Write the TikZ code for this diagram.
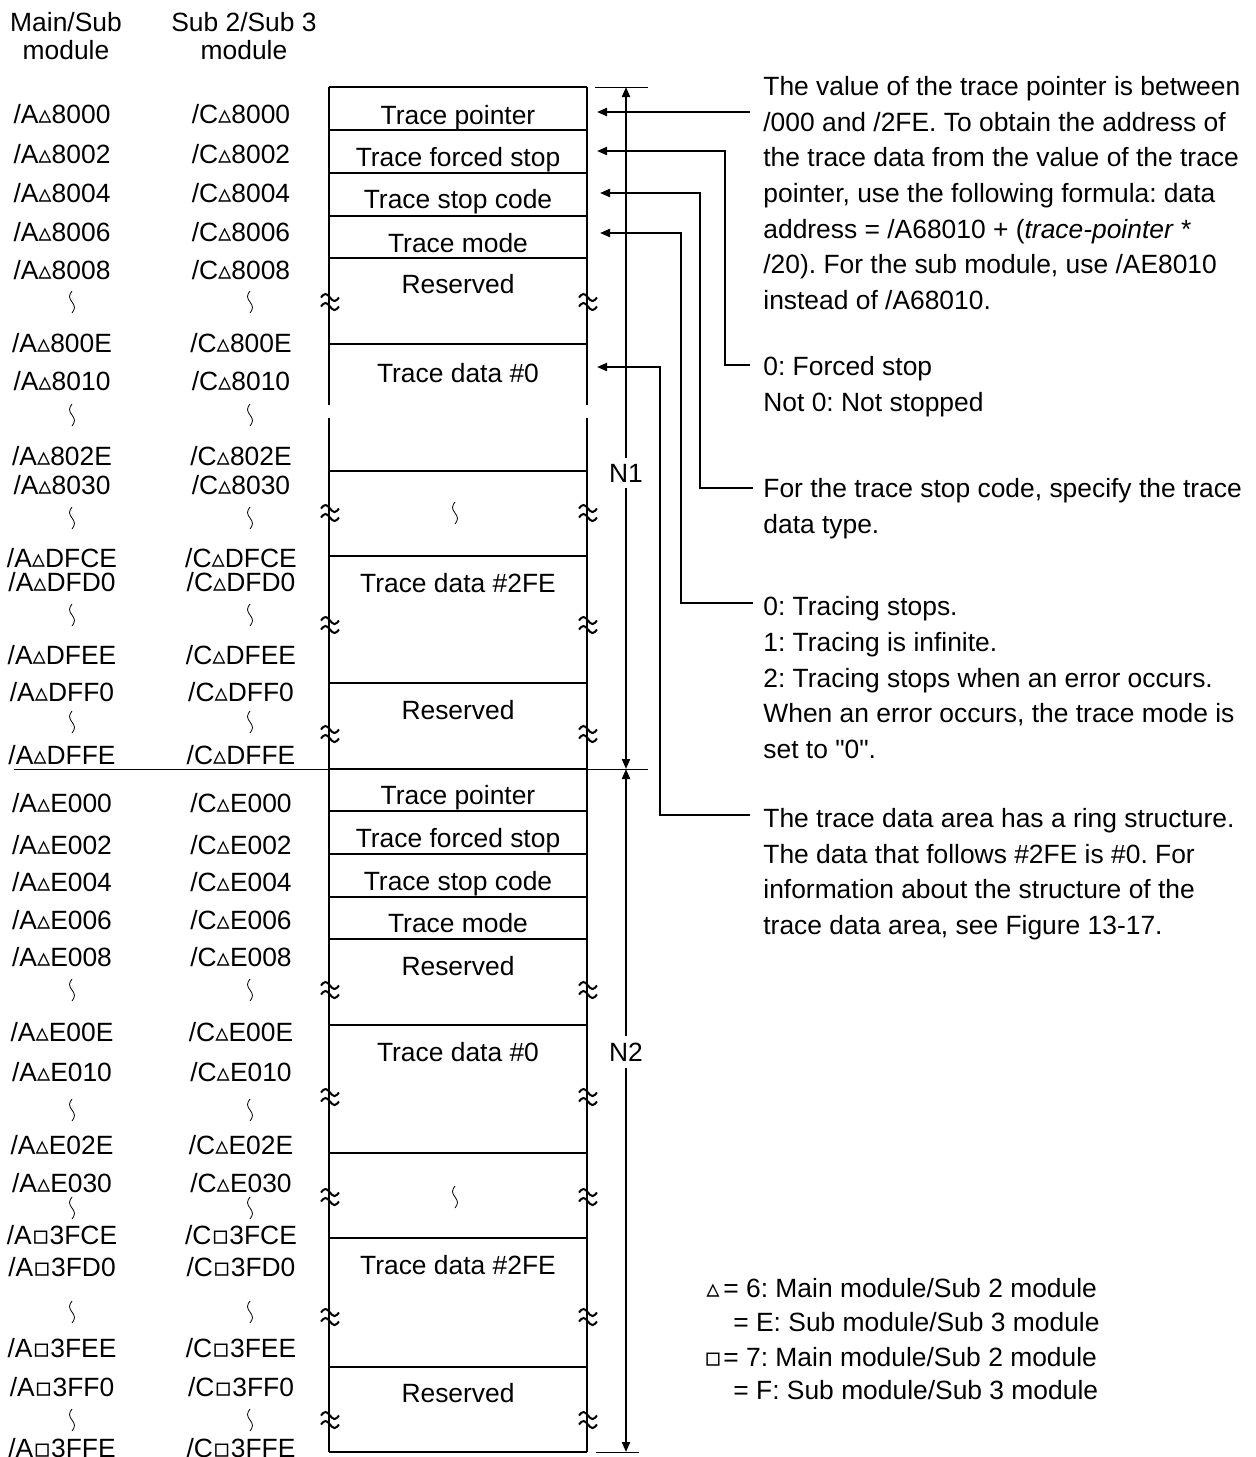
\documentclass[tikz,border=0pt]{standalone}
\usepackage{fontspec}
\setmainfont{Liberation Sans}
\newfontfamily\symfont{DejaVu Sans}
\usepackage{tikz}
\usetikzlibrary{arrows.meta}
\newcommand\txtsize{\fontsize{13.2pt}{17.8pt}\selectfont\frenchspacing}
\newcommand\tri{{\symfont\char"25B5}}
\newcommand\sqbox{{\symfont\char"25AB}}

\begin{document}
\begin{tikzpicture}[x=0.5pt, y=-0.5pt,
          every node/.style={font=\txtsize, inner sep=0pt},
          txt/.style={anchor=base, yshift=-4.6pt},
          note/.style={anchor=base west, align=left, yshift=-4.6pt},
          hdr/.style={anchor=base, yshift=-4.6pt, align=center,
                      font=\fontsize{13.2pt}{14pt}\selectfont},
          box/.style={line width=1pt},
          thinln/.style={line width=0.5pt},
          arr/.style={-{Triangle[length=5pt, width=4pt]}, line width=1pt},
          dim/.style={-{Triangle[length=5pt, width=4pt]}, line width=1pt},
          dimlbl/.style={inner sep=3pt},
          apx/.pic={\foreach \d in {-4.5,4.5}
                      \draw[line width=1pt] (-9,\d) sin (-4.5,\d-3.5) cos (0,\d)
                            sin (4.5,\d+3.5) cos (9,\d);},
          wig/.pic={\draw[line width=0.4pt, rotate=90] (-11,0) sin (-5.5,2.5) cos (0,0)
                            sin (5.5,-2.5) cos (11,0);}
        ]
        \useasboundingbox (0,0) rectangle (1255,1457);

        % Column headers
        \node[hdr] (hdmain) at (66,50) {Main/Sub\\module};
        \node[hdr] (hdsub) at (244,50) {Sub 2/Sub 3\\module};

        % Addresses
        \foreach \y/\s in {114/\tri{}8000, 154/\tri{}8002, 193/\tri{}8004,
                           232/\tri{}8006, 270/\tri{}8008, 343/\tri{}800E,
                           381/\tri{}8010, 456/\tri{}802E, 485/\tri{}8030,
                           558/\tri{}DFCE, 582/\tri{}DFD0, 655/\tri{}DFEE,
                           692/\tri{}DFF0, 755/\tri{}DFFE,
                           803/\tri{}E000, 845/\tri{}E002, 882/\tri{}E004,
                           920/\tri{}E006, 957/\tri{}E008, 1032/\tri{}E00E,
                           1072/\tri{}E010, 1145/\tri{}E02E, 1183/\tri{}E030,
                           1235/\sqbox{}3FCE, 1267/\sqbox{}3FD0, 1348/\sqbox{}3FEE,
                           1387/\sqbox{}3FF0, 1448/\sqbox{}3FFE} {
          \node[txt] (ma\y) at (62,\y) {/A\s};
          \node[txt] (sb\y) at (241,\y) {/C\s};
        }
        \foreach \y in {302,415,518,615,722,990,1110,1208,1312,1420} {
          \pic at (72,\y) {wig};
          \pic at (250,\y) {wig};
        }

        % Memory map
        \foreach \y in {87,130,173,216,258,344,471,556,683,769,
                        811,854,897,939,1025,1153,1238,1367,1452}
          \draw[box] (329,\y) -- (587,\y);
        \draw[box] (329,87) -- (329,405) (329,418) -- (329,1452)
                   (587,87) -- (587,405) (587,418) -- (587,1452);
        \foreach \y in {302,513,625,734,990,1097,1197,1317,1420} {
          \pic at (330,\y) {apx};
          \pic at (588,\y) {apx};
        }
        \pic at (455,513) {wig};
        \pic at (455,1197) {wig};

        \node[txt] (ptrA) at (458,115) {Trace pointer};
        \node[txt] (fstA) at (458,157) {Trace forced stop};
        \node[txt] (scA)  at (458,199) {Trace stop code};
        \node[txt] (mdA)  at (458,243) {Trace mode};
        \node[txt] (rsA)  at (458,284) {Reserved};
        \node[txt] (tdA)  at (458,373) {Trace data \#0};
        \node[txt] (teA)  at (458,583) {Trace data \#2FE};
        \node[txt] (rtA)  at (458,710) {Reserved};
        \node[txt] (ptrB) at (458,795) {Trace pointer};
        \node[txt] (fstB) at (458,838) {Trace forced stop};
        \node[txt] (scB)  at (458,881) {Trace stop code};
        \node[txt] (mdB)  at (458,923) {Trace mode};
        \node[txt] (rsB)  at (458,966) {Reserved};
        \node[txt] (tdB)  at (458,1052) {Trace data \#0};
        \node[txt] (teB)  at (458,1265) {Trace data \#2FE};
        \node[txt] (rtB)  at (458,1393) {Reserved};

        % Sizes N1, N2
        \draw[thinln] (595,87) -- (648,87);
        \draw[thinln] (14,769) -- (648,769);
        \draw[thinln] (596,1452) -- (639,1452);
        \coordinate (n1top) at (626,87);
        \coordinate (nmid) at (626,769);
        \coordinate (n2bot) at (626,1452);
        \node[dimlbl] (n1) at (626,473) {N1};
        \node[dimlbl] (n2) at (626,1052) {N2};
        \draw[dim] (n1) -- (n1top);
        \draw[dim] (n1) -- (nmid);
        \draw[dim] (n2) -- (nmid);
        \draw[dim] (n2) -- (n2bot);

        % Notes (placed at the baseline of their last line)
        \node[note] (noteptr) at (763,300) {The value of the trace pointer is between\\
              /000 and /2FE. To obtain the address of\\
              the trace data from the value of the trace\\
              pointer, use the following formula: data\\
              address = /A68010 + (\textit{trace-pointer} *\\
              /20). For the sub module, use /AE8010\\
              instead of /A68010.};
        \node[note] (notefst) at (763,402) {0: Forced stop\\Not 0: Not stopped};
        \node[note] (notesc) at (763,524) {For the trace stop code, specify the trace\\data type.};
        \node[note] (notemd) at (763,749) {0: Tracing stops.\\1: Tracing is infinite.\\
              2: Tracing stops when an error occurs.\\
              When an error occurs, the trace mode is\\
              set to \textquotedbl0\textquotedbl.};
        \node[note] (notetd) at (763,925) {The trace data area has a ring structure.\\
              The data that follows \#2FE is \#0. For\\
              information about the structure of the\\
              trace data area, see Figure 13-17.};

        % Pointer arrows
        \coordinate (s1) at (750,112);  \coordinate (ptrIn) at (597,112);
        \coordinate (s2) at (750,365);  \coordinate (fstIn) at (597,151);
        \coordinate (s3) at (753,488);  \coordinate (scIn)  at (600,193);
        \coordinate (s4) at (753,603);  \coordinate (mdIn)  at (600,233);
        \coordinate (s5) at (750,815);  \coordinate (tdIn)  at (597,367);
        \draw[arr] (s1) -- (ptrIn);
        \draw[arr] (s2) -- ++(-25,0) |- (fstIn);
        \draw[arr] (s3) -- ++(-53,0) |- (scIn);
        \draw[arr] (s4) -- ++(-72,0) |- (mdIn);
        \draw[arr] (s5) -- ++(-90,0) |- (tdIn);

        % Legend
        \node[txt] (lgtri) at (713,1288) {\tri};
        \node[note] (lg1) at (723,1288) {= 6: Main module/Sub 2 module};
        \node[note] (lg2) at (733,1322) {= E: Sub module/Sub 3 module};
        \node[txt] (lgsq) at (713,1357) {\sqbox};
        \node[note] (lg3) at (723,1357) {= 7: Main module/Sub 2 module};
        \node[note] (lg4) at (733,1390) {= F: Sub module/Sub 3 module};
      \end{tikzpicture}
\end{document}
